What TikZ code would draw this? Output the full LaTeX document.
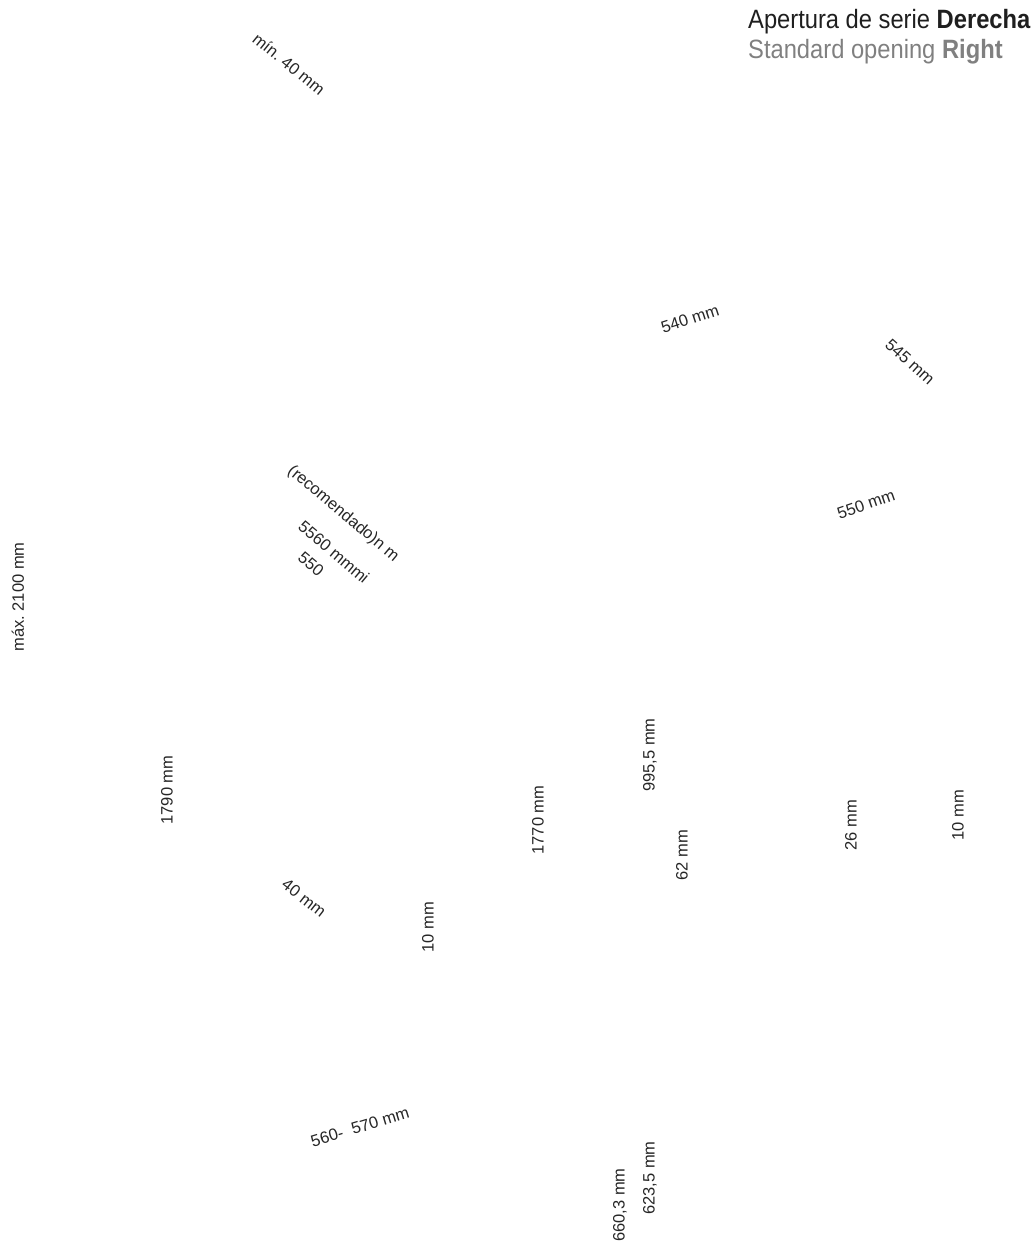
\documentclass[tikz,border=0pt]{standalone}
\usepackage{fontspec}
\setmainfont{Liberation Sans}
\newfontfamily\condfont[FakeStretch=0.895]{Liberation Sans}
\frenchspacing
\begin{document}
\begin{tikzpicture}[x=1pt,y=-1pt,
  lbl/.style={inner sep=0pt,font=\fontsize{16.5}{18}\selectfont,text=black!85},
  vlbl/.style={lbl,rotate=90},
  ttl/.style={inner sep=0pt,anchor=base west,font=\condfont\fontsize{26.5}{30}\selectfont}]
\useasboundingbox (0,0) rectangle (1034,1243);
% title
\node[ttl,text=black!88] (t1) at (748,28) {Apertura de serie \textbf{Derecha}};
\node[ttl,text=black!50] (t2) at (748,58) {Standard opening \textbf{Right}};
% slanted labels
\node[lbl,rotate=-39] (a) at (289,64) {mín. 40 mm};
\node[lbl,rotate=-40] (b) at (343,514) {(recomendado)n m};
\node[lbl,rotate=-40] (c) at (334,552) {5560 mmmi};
\node[lbl,rotate=-40] (d) at (311,564) {550};
\node[lbl,rotate=18] (e) at (690,319) {540 mm};
\node[lbl,rotate=-42] (f) at (910,362) {545 mm};
\node[lbl,rotate=19] (g) at (866,504) {550 mm};
\node[lbl,rotate=-38] (h) at (304,898) {40 mm};
\node[lbl,rotate=17] (i) at (360,1127) {560-\ \ 570 mm};
% vertical labels
\node[vlbl] (j) at (18,597) {máx. 2100 mm};
\node[vlbl] (k) at (167,790) {1790 mm};
\node[vlbl] (l) at (428,927) {10 mm};
\node[vlbl] (m) at (538,820) {1770 mm};
\node[vlbl] (n) at (650,755) {995,5 mm};
\node[vlbl] (o) at (682,855) {62 mm};
\node[vlbl] (p) at (851,825) {26 mm};
\node[vlbl] (q) at (958,815) {10 mm};
\node[vlbl] (r) at (620,1205) {660,3 mm};
\node[vlbl] (s) at (650,1178) {623,5 mm};
\end{tikzpicture}
\end{document}
